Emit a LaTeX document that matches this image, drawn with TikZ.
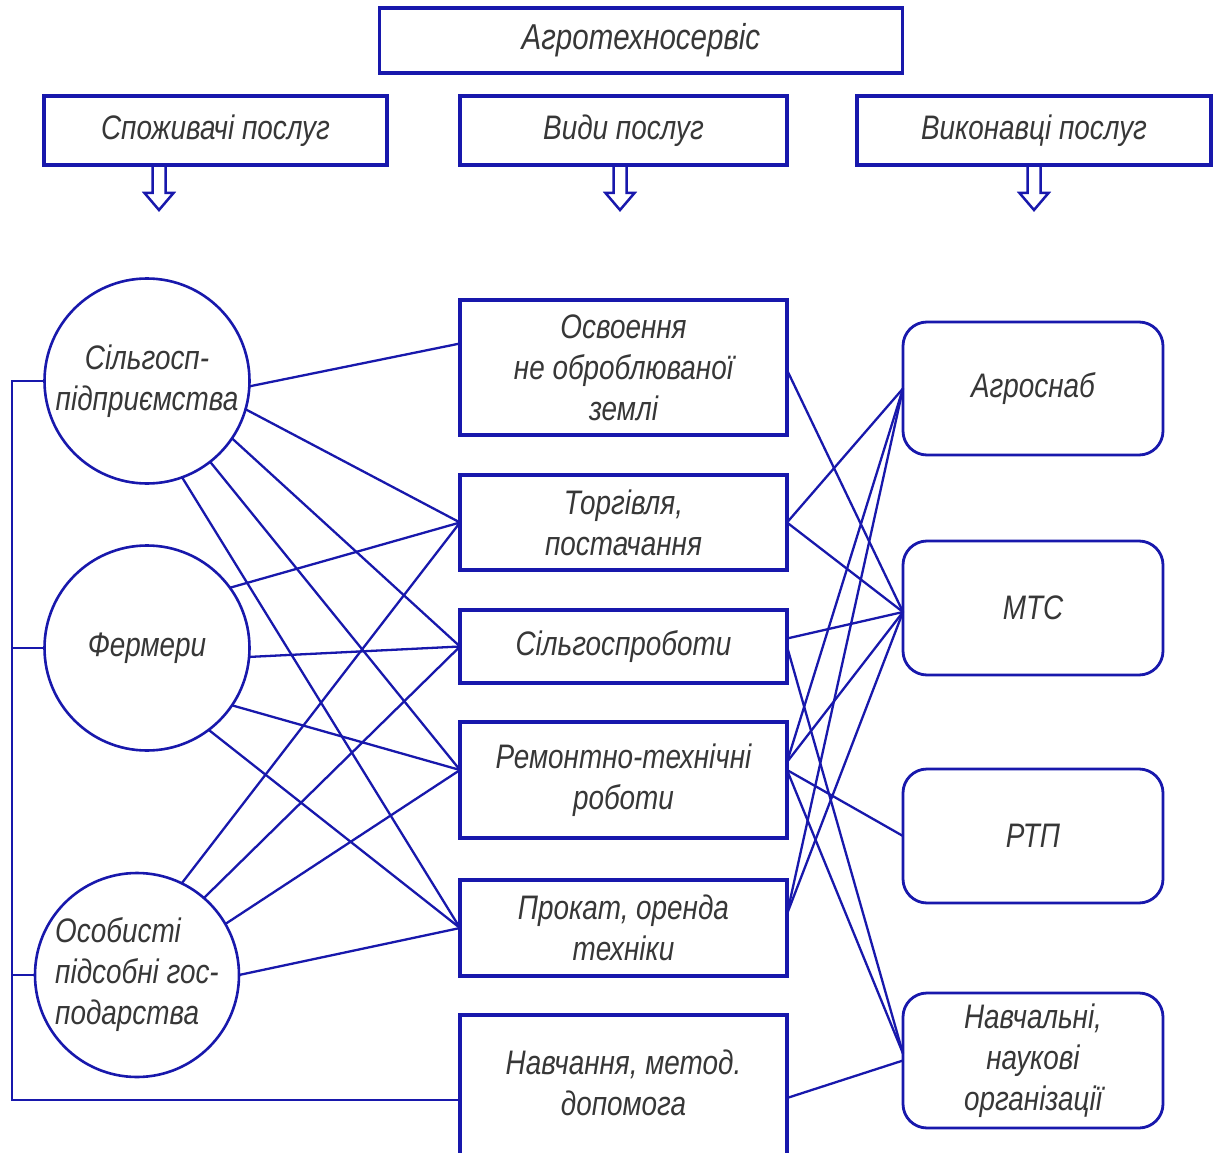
\documentclass[tikz,border=0pt]{standalone}
\usepackage{fontspec}
\newfontfamily\gost[FakeStretch=0.82]{Liberation Sans}
\definecolor{ln}{RGB}{24,24,172}
\definecolor{tx}{RGB}{55,55,55}
\newcommand\harrow[1]{\draw[arrowline] (#1) ++(-6.5,0) -- ++(0,28) -- ++(-8,0) -- ++(14.5,17) -- ++(14.5,-17) -- ++(-8,0) -- ++(0,-28);}
\begin{document}
\begin{tikzpicture}[x=1pt,y=-1pt,
  lbl/.style={font=\gost\itshape\fontsize{34}{41}\selectfont, text=tx, align=center},
  box/.style={lbl, draw=ln, line width=3.2pt, inner sep=0pt, outer sep=0pt, fill=white},
  rbox/.style={box, rounded corners=24pt, line width=2.8pt},
  circ/.style={lbl, circle, draw=ln, line width=2.6pt, inner sep=0pt, outer sep=0pt, minimum size=205pt, fill=white},
  conn/.style={draw=ln, line width=2.3pt},
  arrowline/.style={draw=ln, line width=2.5pt, line join=miter}]
\useasboundingbox (0,0) rectangle (1219,1153);
\clip (0,0) rectangle (1219,1153);
\fill[white] (0,0) rectangle (1219,1153);

% header boxes
\node[box, minimum width=523pt, minimum height=65pt] (top) at (641,40.5) {\fontsize{36}{41}\selectfont Агротехносервіс};
\node[box, minimum width=343pt, minimum height=69pt] (s1) at (215.5,130.5) {Споживачі послуг};
\node[box, minimum width=327pt, minimum height=69pt] (s2) at (623.5,130.5) {Види послуг};
\node[box, minimum width=354pt, minimum height=69pt] (s3) at (1034,130.5) {Виконавці послуг};
\harrow{159,165}
\harrow{620,165}
\harrow{1034,165}

\coordinate (busT) at (12,381);
\coordinate (busB) at (12,1100);

% consumers (circles)
\node[circ] (c1) at (147,381) {Сільгосп-\\підприємства};
\node[circ] (c2) at (147,648) {Фермери};
\node[circ, align=left, minimum size=204pt] (c3) at (137,975) {Особисті\\підсобні гос-\\подарства};

% services
\node[box, minimum width=327pt, minimum height=135pt] (m1) at (623.5,367.5) {Освоення\\не оброблюваної\\землі};
\node[box, minimum width=327pt, minimum height=95pt] (m2) at (623.5,522.5) {Торгівля,\\постачання};
\node[box, minimum width=327pt, minimum height=73pt] (m3) at (623.5,646.5) {Сільгоспроботи};
\node[box, minimum width=327pt, minimum height=116pt] (m4) at (623.5,780) {Ремонтно-технічні\\роботи};
\node[box, minimum width=327pt, minimum height=96pt] (m5) at (623.5,928) {Прокат, оренда\\техніки};
\node[box, minimum width=327pt, minimum height=170pt] (m6) at (623.5,1100) {};
\node[lbl] (m6t) at (623.5,1083) {Навчання, метод.\\допомога};

% performers
\node[rbox, minimum width=260pt, minimum height=133pt] (r1) at (1033,388.5) {Агроснаб};
\node[rbox, minimum width=260pt, minimum height=134pt] (r2) at (1033,608) {МТС};
\node[rbox, minimum width=260pt, minimum height=134pt] (r3) at (1033,836) {РТП};
\node[rbox, minimum width=260pt, minimum height=135pt] (r4) at (1033,1060.5) {Навчальні,\\наукові\\організації};

% bus on the left
\draw[conn] (c1.west) -- (busT) -- (busB) -- (m6.west);
\draw[conn] (c2.west) -- (c2.west -| busT);
\draw[conn] (c3.west) -- (c3.west -| busT);

% circles to services
\draw[conn] (c1.-3) -- ([yshift=24pt]m1.west);
\draw[conn] (c1.-16) -- (m2.west);
\draw[conn] (c1.-34) -- (m3.west);
\draw[conn] (c1.-52) -- ([yshift=10pt]m4.west);
\draw[conn] (c1.-70) -- (m5.west);
\draw[conn] (c2.36) -- (m2.west);
\draw[conn] (c2.-5) -- (m3.west);
\draw[conn] (c2.-34) -- ([yshift=10pt]m4.west);
\draw[conn] (c2.-53) -- (m5.west);
\draw[conn] (c3.64) -- (m2.west);
\draw[conn] (c3.49) -- (m3.west);
\draw[conn] (c3.30) -- ([yshift=10pt]m4.west);
\draw[conn] (c3.0) -- (m5.west);

% services to performers
\draw[conn] ([yshift=-2.5pt]m1.east) -- ([yshift=-4pt]r2.west);
\draw[conn] (m2.east) -- (r1.west);
\draw[conn] (m2.east) -- ([yshift=-4pt]r2.west);
\draw[conn] ([yshift=8pt]m3.east) -- ([yshift=-4pt]r2.west);
\draw[conn] (m3.east) -- ([yshift=7pt]r4.west);
\draw[conn] ([yshift=18pt]m4.east) -- (r1.west);
\draw[conn] ([yshift=18pt]m4.east) -- ([yshift=-4pt]r2.west);
\draw[conn] ([yshift=10pt]m4.east) -- (r3.west);
\draw[conn] ([yshift=10pt]m4.east) -- ([yshift=7pt]r4.west);
\draw[conn] ([yshift=14pt]m5.east) -- (r1.west);
\draw[conn] ([yshift=14pt]m5.east) -- ([yshift=-4pt]r2.west);
\draw[conn] ([yshift=2pt]m6.east) -- (r4.west);
\end{tikzpicture}
\end{document}
